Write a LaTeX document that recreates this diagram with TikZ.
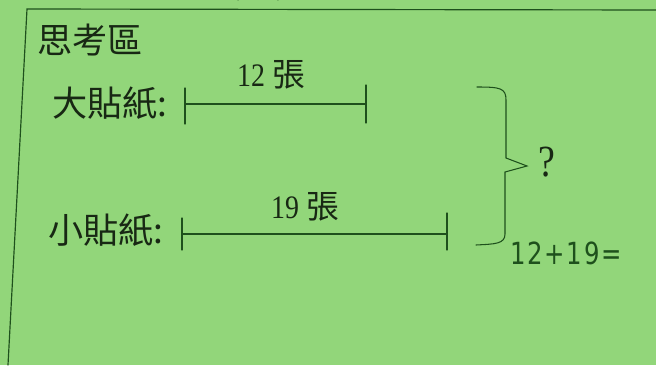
\documentclass[tikz,border=0pt]{standalone}
\usepackage{fontspec}
\newfontfamily\cjk{Noto Sans CJK TC}
\newfontfamily\numfont{Liberation Serif}[FakeStretch=0.85]
\newfontfamily\hand{DejaVu Sans}[FakeStretch=0.8, LetterSpace=6]
\usetikzlibrary{positioning}
\definecolor{paper}{RGB}{146,214,122}
\definecolor{ink}{RGB}{24,40,20}
\definecolor{pen}{RGB}{30,80,28}

\begin{document}
\begin{tikzpicture}
[x=0.03cm, y=-0.03cm, line cap=round,
every node/.style={inner sep=0 pt, text=ink},
title/.style={font=\fontsize{30}{34}\selectfont\cjk},
count/.style={font=\fontsize{28}{32}\selectfont\numfont},
tick/.style={draw=pen, line width=0.9 pt},
frame/.style={draw=pen, line width=1 pt}
]

% paper and frame
\fill[paper] (0,0) rectangle (656,365);
\useasboundingbox (0,0) rectangle (656,365);
\draw[frame] (656,10) -- (27,9) -- (8,365);
\draw[frame] (238,0) arc[start angle=180, end angle=360, x radius=20, y radius=7];

% texts on the left
\node[title] (head) at (90,40) {思考區};
\node[title] (big) at (110,103) {大貼紙:};
\node[title] (small) at (106,230) {小貼紙:};

% bar end points
\path
(185,104) coordinate (b1) (366,104) coordinate (b2)
(182,234) coordinate (s1) (447,234) coordinate (s2)
;

% bars with end ticks
\draw[tick] (b1) -- (b2);
\draw[tick] (s1) -- (s2);
\foreach \p/\u/\d in {b1/16/20, b2/19/19, s1/16/16, s2/21/16}
{\draw[tick] (\p) ++(0,-\u) -- ++(0,\u+\d);}

\node[count] (twelve) at (271,75) {12 {\cjk 張}};
\node[count] (nineteen) at (305,207) {19 {\cjk 張}};

% bracket joining both bars
\draw[tick] (477,87) .. controls (500,87) and (506,88) .. (506,100)
-- (506,158) -- (527,166) coordinate (tip) -- (505,172) -- (505,234)
.. controls (505,244) and (495,244) .. (476,245);

\node[font=\fontsize{38}{42}\selectfont\numfont, right=10pt of tip, yshift=3pt] (ask) {?};
\node[font=\fontsize{26}{30}\selectfont\hand, text=pen] (sum) at (566,253) {12+19=};

\end{tikzpicture}
\end{document}
